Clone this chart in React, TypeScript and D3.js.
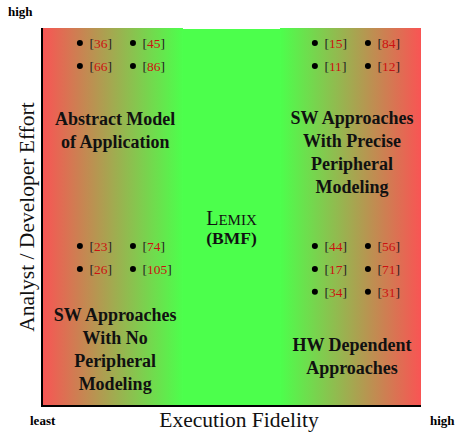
import React from 'react';
import * as d3 from 'd3';

// citation groups, each laid out as a 2-column grid
const topLeftRefs = ['36', '45', '66', '86'];
const topRightRefs = ['15', '84', '11', '12'];
const midLeftRefs = ['23', '74', '26', '105'];
const midRightRefs = ['44', '56', '17', '71', '34', '31'];

const abstractLabel = ['Abstract Model', 'of Application'];
const preciseLabel = ['SW Approaches', 'With Precise', 'Peripheral', 'Modeling'];
const noPeriphLabel = ['SW Approaches', 'With No', 'Peripheral', 'Modeling'];
const hwLabel = ['HW Dependent', 'Approaches'];

const W = 455;
const H = 433;
const margin = { top: 28, right: 34, bottom: 27, left: 42 };
const FONT = '"Liberation Serif", "Times New Roman", serif';
const RED = '#f95454';
const GREEN = '#4cff4c';

const App: React.FC = () => {
  const innerW = W - margin.left - margin.right;
  const innerH = H - margin.top - margin.bottom;

  // fidelity (x) and effort (y) in 0..1
  const x = d3.scaleLinear().domain([0, 1]).range([margin.left, margin.left + innerW]);
  const y = d3.scaleLinear().domain([0, 1]).range([margin.top + innerH, margin.top]);

  const groups = [
    { refs: topLeftRefs, x0: 0.1, y0: 0.96 },
    { refs: topRightRefs, x0: 0.72, y0: 0.96 },
    { refs: midLeftRefs, x0: 0.1, y0: 0.423 },
    { refs: midRightRefs, x0: 0.72, y0: 0.423 },
  ];
  const colStep = 0.14;
  const rowStep = 0.0605;

  const labels = [
    { lines: abstractLabel, cx: 0.193, top: 0.743 },
    { lines: preciseLabel, cx: 0.818, top: 0.746 },
    { lines: noPeriphLabel, cx: 0.193, top: 0.225 },
    { lines: hwLabel, cx: 0.818, top: 0.145 },
  ];
  const lineStep = 0.0605;

  return (
    <svg width={W} height={H} style={{ position: 'absolute', left: 0, top: 0, fontFamily: FONT }}>
      <defs>
        <linearGradient id="gl" x1="0" x2="1" y1="0" y2="0">
          <stop offset="0" stopColor={RED} />
          <stop offset="1" stopColor={GREEN} />
        </linearGradient>
        <linearGradient id="gr" x1="0" x2="1" y1="0" y2="0">
          <stop offset="0" stopColor={GREEN} />
          <stop offset="1" stopColor={RED} />
        </linearGradient>
      </defs>
      <rect x={x(0)} y={y(1)} width={x(0.372) - x(0)} height={y(0) - y(1)} fill="url(#gl)" />
      <rect x={x(0.372)} y={y(1) + 1} width={x(0.628) - x(0.372)} height={y(0) - y(1) - 1} fill={GREEN} />
      <rect x={x(0.628)} y={y(1)} width={x(1) - x(0.628)} height={y(0) - y(1)} fill="url(#gr)" />

      {/* axes */}
      <line x1={x(0)} x2={x(0)} y1={y(1)} y2={y(0) + 1} stroke="#000" strokeWidth={2} />
      <line x1={x(0) - 1} x2={x(1)} y1={y(0)} y2={y(0)} stroke="#000" strokeWidth={2} />

      {groups.map((g, gi) =>
        g.refs.map((r, i) => {
          const bx = x(g.x0 + (i % 2) * colStep);
          const by = y(g.y0 - Math.floor(i / 2) * rowStep);
          return (
            <g key={`${gi}-${i}`}>
              <circle cx={bx} cy={by} r={3} fill="#000" />
              <text x={bx + 9.5} y={by + 4.8} fontSize={13.5} fill="#222">
                [<tspan fill="#cc1111">{r}</tspan>]
              </text>
            </g>
          );
        })
      )}

      {labels.map((l, li) =>
        l.lines.map((t, i) => (
          <text key={`${li}-${i}`} x={x(l.cx)} y={y(l.top - i * lineStep)} textAnchor="middle"
            fontSize={18} fontWeight="bold" fill="#111">{t}</text>
        ))
      )}

      <text x={x(0.5)} y={y(0.48)} textAnchor="middle" fontSize={20} fill="#111">
        L<tspan fontSize={15}>EMIX</tspan>
      </text>
      <text x={x(0.5)} y={y(0.428)} textAnchor="middle" fontSize={17.5} fontWeight="bold" fill="#111">(BMF)</text>

      <text x={8} y={16} fontSize={13} fontWeight="bold">high</text>
      <text x={30} y={425} fontSize={13} fontWeight="bold">least</text>
      <text x={430} y={425} fontSize={13} fontWeight="bold">high</text>
      <text x={239} y={427} textAnchor="middle" fontSize={21.5} fill="#111">Execution Fidelity</text>
      <text transform={`translate(34,${y(0.5)}) rotate(-90)`} textAnchor="middle" fontSize={21.5} fill="#111">
        Analyst / Developer Effort
      </text>
    </svg>
  );
};

export default App;
